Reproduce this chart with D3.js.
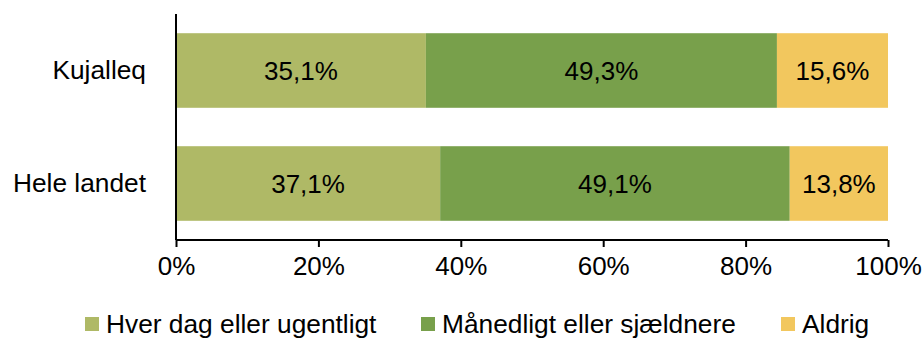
<!DOCTYPE html>
<html>
<head>
<meta charset="utf-8">
<script src="https://cdn.jsdelivr.net/npm/d3@7"></script>
<style>
  body { margin: 0; background: #fff; }
  svg { display: block; font-family: "Liberation Sans", Arial, sans-serif; }
</style>
</head>
<body>
<svg id="chart" width="922" height="338"></svg>
<script>
// Regions shown as stacked horizontal bars
const categories = ["Kujalleq", "Hele landet"];
const seriesNames = ["Hver dag eller ugentligt", "Månedligt eller sjældnere", "Aldrig"];
const hverDag = [35.1, 37.1];
const maanedligt = [49.3, 49.1];
const aldrig = [15.6, 13.8];
const tickValues = [0, 20, 40, 60, 80, 100];
const colors = ["#AFB966", "#78A04B", "#F2C75E"];

const seriesValues = [hverDag, maanedligt, aldrig];
const rows = categories.map((c, i) => {
  const r = { category: c };
  seriesNames.forEach((s, k) => { r[s] = seriesValues[k][i]; });
  return r;
});

const svg = d3.select("#chart");
const x = d3.scaleLinear().domain([0, 100]).range([176, 888]);
const y = d3.scaleBand().domain(categories).range([14, 240]).paddingInner(0.34).paddingOuter(0.17);

const stacked = d3.stack().keys(seriesNames)(rows);
const fmt = v => v.toFixed(1).replace(".", ",") + "%";

const layers = svg.append("g").selectAll("g")
  .data(stacked).join("g")
  .attr("fill", (d, i) => colors[i]);

layers.selectAll("rect")
  .data(d => d.map(p => ({ p, key: d.key })))
  .join("rect")
  .attr("x", d => x(d.p[0]))
  .attr("y", d => y(d.p.data.category))
  .attr("width", d => x(d.p[1]) - x(d.p[0]))
  .attr("height", y.bandwidth());

// Value labels centred in each segment
layers.selectAll("text")
  .data(d => d.map(p => ({ p, key: d.key })))
  .join("text")
  .attr("x", d => (x(d.p[0]) + x(d.p[1])) / 2)
  .attr("y", d => y(d.p.data.category) + y.bandwidth() / 2)
  .attr("dy", "0.36em")
  .attr("text-anchor", "middle")
  .attr("fill", "#000")
  .style("font-size", "26px")
  .text(d => fmt(d.p.data[d.key]));

// Bottom axis
const xAxis = svg.append("g")
  .attr("transform", "translate(0,240)")
  .call(d3.axisBottom(x).tickValues(tickValues).tickSize(7).tickPadding(10)
    .tickFormat(d => d + "%"));
xAxis.select(".domain").attr("stroke", "#000").attr("stroke-width", 2)
  .attr("d", `M${x(0)},0H${x(100)}`);
xAxis.selectAll(".tick line").attr("stroke", "#000").attr("stroke-width", 2);
xAxis.selectAll(".tick text").attr("fill", "#000")
  .style("font-size", "26px").style("font-family", "'Liberation Sans', Arial, sans-serif");

// Left axis
const yAxis = svg.append("g")
  .attr("transform", `translate(${x(0)},0)`)
  .call(d3.axisLeft(y).tickSize(0).tickPadding(30));
yAxis.select(".domain").attr("stroke", "#000").attr("stroke-width", 2)
  .attr("d", "M0,14V240");
yAxis.selectAll(".tick text").attr("fill", "#000")
  .style("font-size", "26.3px").style("font-family", "'Liberation Sans', Arial, sans-serif");

// Legend
const legendX = [85, 421, 781];
const legend = svg.append("g").selectAll("g")
  .data(seriesNames).join("g")
  .attr("transform", (d, i) => `translate(${legendX[i]},0)`);
legend.append("rect")
  .attr("x", 0).attr("y", 317).attr("width", 14).attr("height", 14)
  .attr("fill", (d, i) => colors[i]);
legend.append("text")
  .attr("x", 21).attr("y", 324).attr("dy", "0.36em")
  .attr("fill", "#000")
  .style("font-size", "26.3px")
  .text(d => d);
</script>
</body>
</html>
